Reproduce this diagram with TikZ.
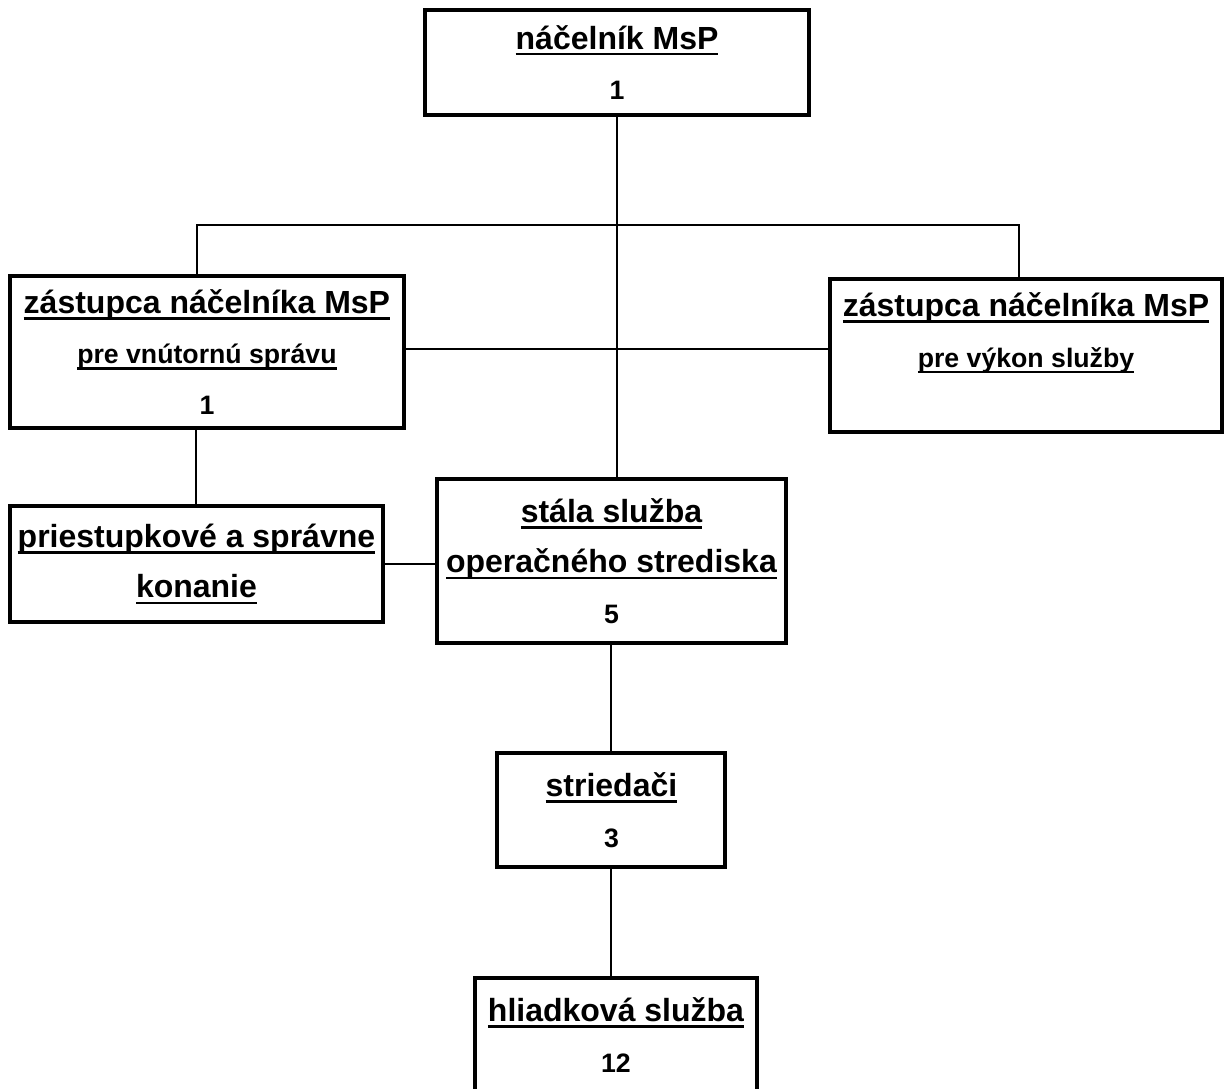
\documentclass[tikz,border=0pt]{standalone}
\usepackage{fontspec}
\setmainfont{Liberation Sans}
\usepackage{tikz}
\usetikzlibrary{positioning}

\newsavebox{\ulsave}
\newcommand{\ulbig}[1]{\sbox{\ulsave}{#1}\rlap{\rule[-2.4pt]{\wd\ulsave}{1pt}}\usebox{\ulsave}}
\newcommand{\ulsmall}[1]{{\fontsize{10}{19}\selectfont\sbox{\ulsave}{#1}\rlap{\rule[-2.1pt]{\wd\ulsave}{0.8pt}}\usebox{\ulsave}}}
\newcommand{\cnt}[1]{{\fontsize{10}{19}\selectfont #1}}

\begin{document}
\begin{tikzpicture}[node distance=2cm,
        orgbox/.style={draw, line width=1.5pt, align=center, inner sep=0pt,
            font=\fontsize{12}{19}\selectfont\bfseries},
        link/.style={line width=0.75pt}]

        \useasboundingbox (0,0) rectangle (459pt,-408.375pt);

        \node[orgbox, minimum width=144pt,   minimum height=39.4pt] (0) at (231.4pt,-23.4pt)
            {\ulbig{náčelník MsP}\\ \cnt{1}};
        \node[orgbox, minimum width=147.75pt, minimum height=57pt]  (1) at (77.6pt,-132pt)
            {\ulbig{zástupca náčelníka MsP}\\ \ulsmall{pre vnútornú správu}\\ \cnt{1}};
        \node[orgbox, minimum width=147pt,   minimum height=57.4pt] (2) at (384.75pt,-133.3pt)
            {\ulbig{zástupca náčelníka MsP}\\ \ulsmall{pre výkon služby}\\ \cnt{\phantom{1}}};
        \node[orgbox, minimum width=139.9pt, minimum height=43.5pt,
              below=27.75pt of 1.south west, anchor=north west]     (3)
            {\ulbig{priestupkové a správne}\\ \ulbig{konanie}};
        \node[orgbox, minimum width=130.9pt, minimum height=61.5pt] (4) at (229.3pt,-210.4pt)
            {\ulbig{stála služba}\\ \ulbig{operačného strediska}\\ \cnt{5}};
        \node[orgbox, minimum width=85.5pt,  minimum height=42.75pt, below=39.75pt of 4] (5)
            {\ulbig{striedači}\\ \cnt{3}};
        \node[orgbox, minimum width=105.4pt, minimum height=42.75pt, below=40.1pt of 5,
              xshift=1.7pt]                                          (6)
            {\ulbig{hliadková služba}\\ \cnt{12}};

        \coordinate (busL) at (73.9pt,-84.4pt);
        \coordinate (busR) at (382.1pt,-84.4pt);

        \draw[link] (0.south) -- (0.south |- 4.north)
                    (1.north -| busL) -- (busL) -- (busR) -- (busR |- 2.north)
                    ([yshift=1.1pt]1.east) -- ([yshift=1.1pt]1.east -| 2.west)
                    (3.north) -- (3.north |- 1.south)
                    (3.east) -- (3.east -| 4.west)
                    (5.north) -- (5.north |- 4.south)
                    (5.south) -- (5.south |- 6.north);

\end{tikzpicture}
\end{document}
